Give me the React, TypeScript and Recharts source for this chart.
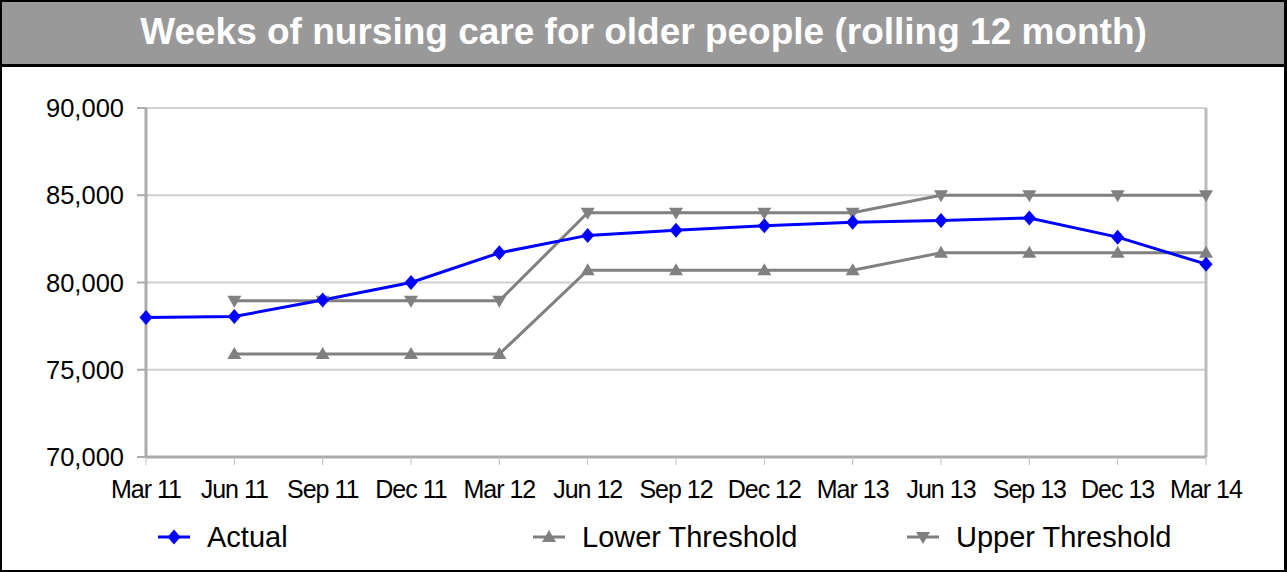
import React from "react";
import {
  CartesianGrid,
  Line,
  LineChart,
  ReferenceLine,
  XAxis,
  YAxis,
} from "recharts";

const quarters = [
  "Mar 11",
  "Jun 11",
  "Sep 11",
  "Dec 11",
  "Mar 12",
  "Jun 12",
  "Sep 12",
  "Dec 12",
  "Mar 13",
  "Jun 13",
  "Sep 13",
  "Dec 13",
  "Mar 14",
];
const actual = [78000, 78050, 79000, 80000, 81700, 82700, 83000, 83250, 83450, 83550, 83700, 82600, 81050];
const lowerThreshold = [null, 75900, 75900, 75900, 75900, 80700, 80700, 80700, 80700, 81700, 81700, 81700, 81700];
const upperThreshold = [null, 78950, 78950, 78950, 78950, 84000, 84000, 84000, 84000, 85000, 85000, 85000, 85000];
const yTicks = [70000, 75000, 80000, 85000, 90000];

const data = quarters.map((quarter, i) => ({
  quarter,
  actual: actual[i],
  lower: lowerThreshold[i],
  upper: upperThreshold[i],
}));

const FONT = "'Liberation Sans', Arial, sans-serif";
const BLUE = "#0000ff";
const GREY = "#808080";

type Shape = "diamond" | "up" | "down";

function markerPath(shape: Shape, x: number, y: number) {
  if (shape === "diamond") {
    return `M${x},${y - 7.5} L${x + 6.5},${y} L${x},${y + 7.5} L${x - 6.5},${y} Z`;
  }
  if (shape === "up") {
    return `M${x},${y - 7} L${x + 7},${y + 5} L${x - 7},${y + 5} Z`;
  }
  return `M${x},${y + 7} L${x + 7},${y - 5} L${x - 7},${y - 5} Z`;
}

function makeDot(shape: Shape, color: string) {
  return (props: any) => {
    const { cx, cy, index } = props;
    if (cx == null || cy == null || props.value == null) {
      return <g key={`e-${shape}-${index}`} />;
    }
    return <path key={`${shape}-${index}`} d={markerPath(shape, cx, cy)} fill={color} />;
  };
}

function LegendItem({ label, shape, color, left }: { label: string; shape: Shape; color: string; left: number }) {
  return (
    <div style={{ position: "absolute", left, top: 519, height: 36, display: "flex", alignItems: "center" }}>
      <svg width={34} height={20} style={{ marginRight: 16 }}>
        <line x1={1} y1={10} x2={33} y2={10} stroke={color} strokeWidth={3} />
        <path d={markerPath(shape, 17, 10)} fill={color} />
      </svg>
      <span style={{ fontFamily: FONT, fontSize: 29, color: "#000" }}>{label}</span>
    </div>
  );
}

export default function App() {
  return (
    <div
      style={{
        position: "absolute",
        left: 0,
        top: 0,
        width: 1287,
        height: 572,
        background: "#fff",
        overflow: "hidden",
      }}
    >
      <LineChart
        width={1287}
        height={510}
        data={data}
        margin={{ top: 108, right: 81, left: 0, bottom: 0 }}
        style={{ position: "absolute", left: 0, top: 0 }}
      >
        <CartesianGrid vertical={false} stroke="#d0d0d0" strokeWidth={2} />
        <XAxis
          dataKey="quarter"
          scale="point"
          padding={{ left: 0, right: 0 }}
          height={53}
          interval={0}
          stroke="#ababab"
          strokeWidth={3}
          tickSize={8}
          tickMargin={15}
          tickLine={{ stroke: "#c0c0c0", strokeWidth: 1 }}
          tick={{ fill: "#000", fontFamily: FONT, fontSize: 25, letterSpacing: -1 }}
        />
        <YAxis
          width={146}
          domain={[70000, 90000]}
          ticks={yTicks}
          interval={0}
          stroke="#ababab"
          strokeWidth={3}
          tickSize={9}
          tickMargin={13}
          tickLine={{ stroke: "#ababab", strokeWidth: 2 }}
          tickFormatter={(v: number) => v.toLocaleString("en-US")}
          tick={{ fill: "#000", fontFamily: FONT, fontSize: 25.5 }}
        />
        <ReferenceLine x="Mar 14" stroke="#bcbcbc" strokeWidth={3} />
        <Line
          dataKey="lower"
          stroke={GREY}
          strokeWidth={3}
          dot={makeDot("up", GREY)}
          activeDot={false}
          isAnimationActive={false}
        />
        <Line
          dataKey="upper"
          stroke={GREY}
          strokeWidth={3}
          dot={makeDot("down", GREY)}
          activeDot={false}
          isAnimationActive={false}
        />
        <Line
          dataKey="actual"
          stroke={BLUE}
          strokeWidth={3}
          dot={makeDot("diamond", BLUE)}
          activeDot={false}
          isAnimationActive={false}
        />
      </LineChart>

      <div
        style={{
          position: "absolute",
          left: 0,
          top: 0,
          width: 1287,
          height: 64,
          background: "#999999",
          borderBottom: "3px solid #000",
          display: "flex",
          alignItems: "center",
          justifyContent: "center",
          fontFamily: FONT,
          fontWeight: "bold",
          fontSize: 37,
          color: "#fff",
        }}
      >
        Weeks of nursing care for older people (rolling 12 month)
      </div>

      <LegendItem label="Actual" shape="diamond" color={BLUE} left={157} />
      <LegendItem label="Lower Threshold" shape="up" color={GREY} left={532} />
      <LegendItem label="Upper Threshold" shape="down" color={GREY} left={906} />

      <div
        style={{
          position: "absolute",
          left: 0,
          top: 0,
          width: 1287,
          height: 572,
          boxSizing: "border-box",
          border: "2px solid #000",
          borderRightWidth: 3,
          pointerEvents: "none",
        }}
      />
    </div>
  );
}
